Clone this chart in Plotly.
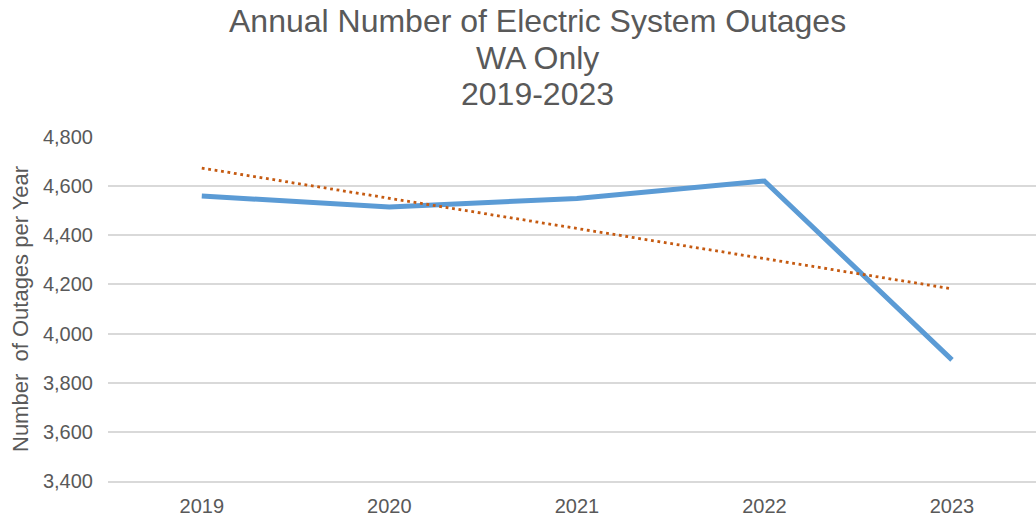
import numpy as np
import plotly.graph_objects as go

years = ["2019", "2020", "2021", "2022", "2023"]
outages = [4560, 4515, 4550, 4621, 3893]
y_ticks = [3400, 3600, 3800, 4000, 4200, 4400, 4600, 4800]
title_lines = ["Annual Number of Electric System Outages", "WA Only", "2019-2023"]
y_title = "Number\u00a0 of Outages per Year"

# linear trendline (least squares over the series)
idx = np.arange(len(years))
slope, intercept = np.polyfit(idx, outages, 1)
trend = list(slope * idx + intercept)

TXT = "#595959"
FONT = "Liberation Sans, Arial, sans-serif"

fig = go.Figure()
fig.add_trace(go.Scatter(x=years, y=outages, mode="lines",
                         line=dict(color="#5B9BD5", width=5), showlegend=False))
fig.add_trace(go.Scatter(x=years, y=trend, mode="lines",
                         line=dict(color="#C55A11", width=2.8, dash="2.8px,3.7px"),
                         showlegend=False))

W, H = 1036, 518
L, R, T, B = 108, 0, 137, 37
pw, ph = W - L - R, H - T - B

def py(px):
    return (H - B - px) / ph

def pxx(px):
    return (px - L) / pw

anns = []
for line, ypx in zip(title_lines, [21, 58, 94.5]):
    anns.append(dict(text=line, xref="paper", yref="paper", x=pxx(537), y=py(ypx),
                     xanchor="center", yanchor="middle", showarrow=False,
                     font=dict(size=32, color=TXT, family=FONT)))
anns.append(dict(text=y_title, xref="paper", yref="paper", x=pxx(20), y=py(309),
                 xanchor="center", yanchor="middle", showarrow=False, textangle=-90,
                 font=dict(size=22, color=TXT, family=FONT)))

fig.update_layout(
    width=W, height=H,
    margin=dict(l=L, r=R, t=T, b=B, pad=0, autoexpand=False),
    paper_bgcolor="white", plot_bgcolor="white",
    font=dict(family=FONT, color=TXT),
    annotations=anns,
    xaxis=dict(type="category", range=[-0.5, (1036 - 202) / 187.5], showgrid=False,
               showline=True, linecolor="#D9D9D9", linewidth=1.5, automargin=False,
               zeroline=False, ticks="", ticklabelstandoff=6,
               tickfont=dict(size=20, color=TXT, family=FONT)),
    yaxis=dict(range=[3400, 4800], tickvals=y_ticks, tickformat=",d", automargin=False,
               showgrid=True, gridcolor="#D9D9D9", gridwidth=1.5,
               zeroline=False, showline=False, ticks="", ticklabelstandoff=14,
               tickfont=dict(size=20, color=TXT, family=FONT)),
)

fig.write_html("out.html")
